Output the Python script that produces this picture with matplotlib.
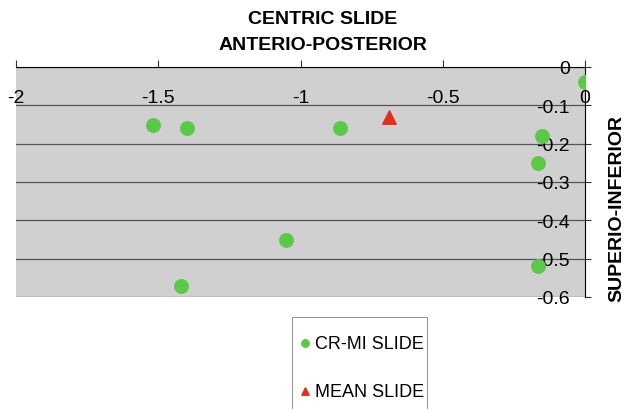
import matplotlib
matplotlib.use("Agg")
import matplotlib.pyplot as plt
from matplotlib.patches import Rectangle

plt.rcParams.update({"font.family": ["Liberation Sans", "DejaVu Sans"], "font.size": 14})

# CR-MI slide points (anterio-posterior, superio-inferior)
crmi_x = [-1.52, -1.40, -0.86, -1.05, -1.42, 0.0, -0.15, -0.165, -0.165]
crmi_y = [-0.15, -0.16, -0.16, -0.45, -0.57, -0.04, -0.18, -0.25, -0.52]
mean_x = [-0.69]
mean_y = [-0.13]
xticks = [-2, -1.5, -1, -0.5, 0]
xtick_labels = ["-2", "-1.5", "-1", "-0.5", "0"]
yticks = [0, -0.1, -0.2, -0.3, -0.4, -0.5, -0.6]
ytick_labels = ["0", "-0.1", "-0.2", "-0.3", "-0.4", "-0.5", "-0.6"]

GREEN, RED, BG = "#5cc84a", "#e0301e", "#d0d0d0"

fig = plt.figure(figsize=(6.24, 4.10), dpi=100)
ax = fig.add_axes([16 / 624, 1 - 298 / 410, 569 / 624, 230 / 410])
ax.set_facecolor(BG)

ax.scatter(crmi_x, crmi_y, s=95, color=GREEN, marker="o", zorder=3, label="CR-MI SLIDE")
ax.scatter(mean_x, mean_y, s=95, color=RED, marker="^", zorder=3, label="MEAN SLIDE")

ax.set_xlim(-2, 0)
ax.set_ylim(-0.6, 0)
ax.set_yticks(yticks)
ax.set_yticklabels(ytick_labels)
ax.set_xticks(xticks)
ax.set_xticklabels(xtick_labels)
ax.yaxis.grid(True, color="#555555", lw=0.9)
ax.set_axisbelow(True)

# axes cross at the origin: x axis on top, y axis on the right
ax.spines["bottom"].set_position(("data", 0))
ax.spines["left"].set_position(("data", 0))
ax.spines["top"].set_visible(False)
ax.spines["right"].set_visible(False)
ax.tick_params(axis="x", direction="in", length=5, pad=16, color="#333333")
ax.tick_params(axis="y", direction="in", length=4, pad=11, color="#333333")

fig.text(323 / 624, 1 - 20 / 410, "CENTRIC SLIDE", ha="center", va="center",
         fontsize=14, fontweight="bold")
fig.text(323 / 624, 1 - 45 / 410, "ANTERIO-POSTERIOR", ha="center", va="center",
         fontsize=14, fontweight="bold")
fig.text(617 / 624, 1 - 209 / 410, "SUPERIO-INFERIOR", rotation=90, ha="center",
         va="center", fontsize=14, fontweight="bold")

# legend box runs past the bottom edge, as in the source
fig.add_artist(Rectangle((292 / 624, -0.05), 135 / 624, 1 - 318 / 410 + 0.05,
                         transform=fig.transFigure, fill=False,
                         edgecolor="#999999", lw=0.8))
fig.legend(loc="upper left", bbox_to_anchor=(300 / 624, 1 - 336 / 410),
           frameon=False, fontsize=13, markerscale=0.55, handlelength=0.5,
           handletextpad=0.35, labelspacing=1.7, borderpad=0, borderaxespad=0)

fig.savefig("out.png", dpi=100)
